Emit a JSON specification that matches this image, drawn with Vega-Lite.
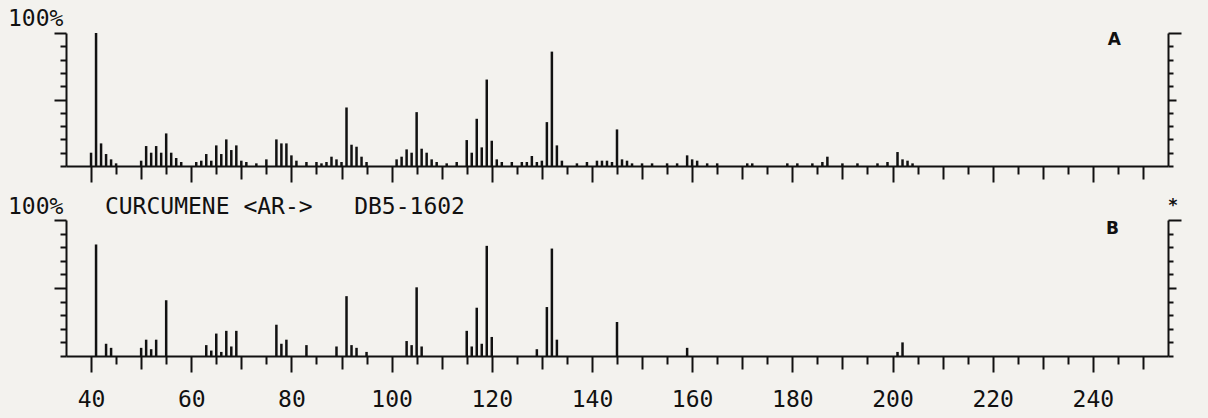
{
  "$schema": "https://vega.github.io/schema/vega-lite/v6.json",
  "background": "#f3f2ee",
  "padding": {"left": 8, "top": 8, "right": 26, "bottom": 8},
  "spacing": 54,
  "bounds": "flush",
  "config": {
    "view": {"stroke": null},
    "font": "DejaVu Sans Mono",
    "axis": {
      "grid": false,
      "title": null,
      "labelFont": "DejaVu Sans Mono",
      "labelFontSize": 23,
      "labelColor": "#111111",
      "domainColor": "#111111",
      "domainWidth": 2,
      "tickColor": "#111111",
      "tickWidth": 2
    },
    "title": {"font": "DejaVu Sans Mono", "fontSize": 23, "fontWeight": "normal", "color": "#111111", "anchor": "start", "frame": "group"}
  },
  "datasets": {
    "specA": [
      {"mz": 40, "intensity": 10}, {"mz": 41, "intensity": 100}, {"mz": 42, "intensity": 17}, {"mz": 43, "intensity": 9},
      {"mz": 44, "intensity": 5}, {"mz": 45, "intensity": 2}, {"mz": 50, "intensity": 4}, {"mz": 51, "intensity": 15},
      {"mz": 52, "intensity": 10}, {"mz": 53, "intensity": 15}, {"mz": 54, "intensity": 10}, {"mz": 55, "intensity": 24.5},
      {"mz": 56, "intensity": 10}, {"mz": 57, "intensity": 6}, {"mz": 58, "intensity": 3}, {"mz": 61, "intensity": 3},
      {"mz": 62, "intensity": 4}, {"mz": 63, "intensity": 9}, {"mz": 64, "intensity": 4}, {"mz": 65, "intensity": 15.5},
      {"mz": 66, "intensity": 9}, {"mz": 67, "intensity": 20}, {"mz": 68, "intensity": 12}, {"mz": 69, "intensity": 15.5},
      {"mz": 70, "intensity": 4}, {"mz": 71, "intensity": 3}, {"mz": 73, "intensity": 2}, {"mz": 75, "intensity": 5},
      {"mz": 77, "intensity": 20}, {"mz": 78, "intensity": 17}, {"mz": 79, "intensity": 17}, {"mz": 80, "intensity": 8},
      {"mz": 81, "intensity": 4}, {"mz": 83, "intensity": 3}, {"mz": 85, "intensity": 3}, {"mz": 86, "intensity": 2},
      {"mz": 87, "intensity": 3}, {"mz": 88, "intensity": 7}, {"mz": 89, "intensity": 5}, {"mz": 90, "intensity": 3},
      {"mz": 91, "intensity": 44}, {"mz": 92, "intensity": 16}, {"mz": 93, "intensity": 14.5}, {"mz": 94, "intensity": 7},
      {"mz": 95, "intensity": 3}, {"mz": 101, "intensity": 5}, {"mz": 102, "intensity": 7}, {"mz": 103, "intensity": 12.5},
      {"mz": 104, "intensity": 10}, {"mz": 105, "intensity": 40.5}, {"mz": 106, "intensity": 13}, {"mz": 107, "intensity": 10},
      {"mz": 108, "intensity": 5}, {"mz": 109, "intensity": 3}, {"mz": 111, "intensity": 2}, {"mz": 113, "intensity": 3},
      {"mz": 115, "intensity": 19.5}, {"mz": 116, "intensity": 10}, {"mz": 117, "intensity": 35.5}, {"mz": 118, "intensity": 14},
      {"mz": 119, "intensity": 65}, {"mz": 120, "intensity": 19}, {"mz": 121, "intensity": 5}, {"mz": 122, "intensity": 3},
      {"mz": 124, "intensity": 3}, {"mz": 126, "intensity": 3}, {"mz": 127, "intensity": 3}, {"mz": 128, "intensity": 7.5},
      {"mz": 129, "intensity": 3}, {"mz": 130, "intensity": 4}, {"mz": 131, "intensity": 33}, {"mz": 132, "intensity": 86},
      {"mz": 133, "intensity": 15.5}, {"mz": 134, "intensity": 4}, {"mz": 137, "intensity": 2}, {"mz": 139, "intensity": 3},
      {"mz": 141, "intensity": 4}, {"mz": 142, "intensity": 4}, {"mz": 143, "intensity": 4}, {"mz": 144, "intensity": 3},
      {"mz": 145, "intensity": 27.5}, {"mz": 146, "intensity": 5}, {"mz": 147, "intensity": 4}, {"mz": 148, "intensity": 2},
      {"mz": 150, "intensity": 2}, {"mz": 152, "intensity": 2}, {"mz": 155, "intensity": 2}, {"mz": 157, "intensity": 2},
      {"mz": 159, "intensity": 8}, {"mz": 160, "intensity": 5}, {"mz": 161, "intensity": 4}, {"mz": 163, "intensity": 2},
      {"mz": 165, "intensity": 2}, {"mz": 171, "intensity": 2}, {"mz": 172, "intensity": 2}, {"mz": 179, "intensity": 2},
      {"mz": 181, "intensity": 2}, {"mz": 184, "intensity": 2}, {"mz": 186, "intensity": 3}, {"mz": 187, "intensity": 7},
      {"mz": 190, "intensity": 2}, {"mz": 193, "intensity": 2}, {"mz": 197, "intensity": 2}, {"mz": 199, "intensity": 3},
      {"mz": 201, "intensity": 10.5}, {"mz": 202, "intensity": 5}, {"mz": 203, "intensity": 4}, {"mz": 204, "intensity": 2}
    ],
    "specB": [
      {"mz": 41, "intensity": 82}, {"mz": 43, "intensity": 9}, {"mz": 44, "intensity": 6}, {"mz": 50, "intensity": 6},
      {"mz": 51, "intensity": 12}, {"mz": 52, "intensity": 5}, {"mz": 53, "intensity": 12}, {"mz": 55, "intensity": 41},
      {"mz": 63, "intensity": 8}, {"mz": 64, "intensity": 4}, {"mz": 65, "intensity": 16.5}, {"mz": 66, "intensity": 3},
      {"mz": 67, "intensity": 18.5}, {"mz": 68, "intensity": 7}, {"mz": 69, "intensity": 18.5}, {"mz": 77, "intensity": 23},
      {"mz": 78, "intensity": 9}, {"mz": 79, "intensity": 12}, {"mz": 83, "intensity": 8}, {"mz": 89, "intensity": 7},
      {"mz": 91, "intensity": 44}, {"mz": 92, "intensity": 8}, {"mz": 93, "intensity": 6}, {"mz": 95, "intensity": 3},
      {"mz": 103, "intensity": 11}, {"mz": 104, "intensity": 8}, {"mz": 105, "intensity": 50.5}, {"mz": 106, "intensity": 7},
      {"mz": 115, "intensity": 18.5}, {"mz": 116, "intensity": 7}, {"mz": 117, "intensity": 35.5}, {"mz": 118, "intensity": 9},
      {"mz": 119, "intensity": 81}, {"mz": 120, "intensity": 14}, {"mz": 129, "intensity": 5}, {"mz": 131, "intensity": 36},
      {"mz": 132, "intensity": 79}, {"mz": 133, "intensity": 12}, {"mz": 145, "intensity": 25}, {"mz": 159, "intensity": 6},
      {"mz": 201, "intensity": 3}, {"mz": 202, "intensity": 10}
    ],
    "labelA": [{"mz": 244.3, "intensity": 94.5, "text": "A"}],
    "labelB": [{"mz": 243.9, "intensity": 93.5, "text": "B"}, {"mz": 256, "intensity": 110, "text": "*"}]
  },
  "vconcat": [
    {
      "width": 1102,
      "height": 133,
      "title": {"text": "100%", "dx": -58, "offset": 0},
      "resolve": {"axis": {"x": "independent", "y": "independent"}},
      "layer": [
        {
          "data": {"name": "specA"},
          "mark": {"type": "rule", "color": "#111111", "strokeWidth": 2.5},
          "encoding": {
            "x": {"field": "mz", "type": "quantitative", "scale": {"domain": [35, 255], "nice": false, "zero": false},
              "axis": {"orient": "bottom", "labels": false, "tickSize": 16, "values": [40,60,80,100,120,140,160,180,200,220,240]}},
            "y": {"field": "intensity", "type": "quantitative", "scale": {"domain": [0, 100], "nice": false},
              "axis": {"orient": "left", "labels": false, "tickSize": 12, "values": [50,100]}},
            "y2": {"datum": 0}
          }
        },
        {
          "data": {"name": "labelA"},
          "mark": {"type": "text", "font": "DejaVu Sans", "fontWeight": "bold", "fontSize": 17, "color": "#111111", "baseline": "middle", "align": "center"},
          "encoding": {
            "x": {"field": "mz", "type": "quantitative",
              "axis": {"orient": "bottom", "labels": false, "domain": false, "tickSize": 13, "values": [50,70,90,110,130,150,170,190,210,230,250]}},
            "y": {"field": "intensity", "type": "quantitative",
              "axis": {"orient": "right", "labels": false, "tickSize": 5, "values": [0,10,20,30,40,60,70,80,90]}},
            "text": {"field": "text"}
          }
        },
        {
          "data": {"name": "labelA"},
          "mark": {"type": "text", "opacity": 0},
          "encoding": {
            "x": {"field": "mz", "type": "quantitative",
              "axis": {"orient": "bottom", "labels": false, "domain": false, "tickSize": 8, "values": [45,55,65,75,85,95,105,115,125,135,145,155,165,175,185,195,205,215,225,235,245]}},
            "y": {"field": "intensity", "type": "quantitative",
              "axis": {"orient": "left", "labels": false, "domain": false, "tickSize": 6, "values": [0,10,20,30,40,60,70,80,90]}},
            "text": {"field": "text"}
          }
        },
        {
          "data": {"name": "labelA"},
          "mark": {"type": "text", "opacity": 0},
          "encoding": {
            "y": {"field": "intensity", "type": "quantitative",
              "axis": {"orient": "right", "labels": false, "domain": false, "tickSize": 8, "values": [50]}},
            "text": {"field": "text"}
          }
        },
        {
          "data": {"name": "labelA"},
          "mark": {"type": "text", "opacity": 0},
          "encoding": {
            "y": {"field": "intensity", "type": "quantitative",
              "axis": {"orient": "right", "labels": false, "domain": false, "tickSize": 13, "values": [100]}},
            "text": {"field": "text"}
          }
        }
      ]
    },
    {
      "width": 1102,
      "height": 136,
      "title": {"text": "100%\u00a0\u00a0\u00a0CURCUMENE\u00a0<AR->\u00a0\u00a0\u00a0DB5-1602", "dx": -58, "offset": 0, "dy": 22},
      "resolve": {"axis": {"x": "independent", "y": "independent"}},
      "layer": [
        {
          "data": {"name": "specB"},
          "mark": {"type": "rule", "color": "#111111", "strokeWidth": 2.5},
          "encoding": {
            "x": {"field": "mz", "type": "quantitative", "scale": {"domain": [35, 255], "nice": false, "zero": false},
              "axis": {"orient": "bottom", "tickSize": 16, "labelPadding": 16, "values": [40,60,80,100,120,140,160,180,200,220,240]}},
            "y": {"field": "intensity", "type": "quantitative", "scale": {"domain": [0, 100], "nice": false},
              "axis": {"orient": "left", "labels": false, "tickSize": 12, "values": [50,100]}},
            "y2": {"datum": 0}
          }
        },
        {
          "data": {"name": "labelB"},
          "mark": {"type": "text", "font": "DejaVu Sans", "fontWeight": "bold", "fontSize": 17, "color": "#111111", "baseline": "middle", "align": "center"},
          "encoding": {
            "x": {"field": "mz", "type": "quantitative",
              "axis": {"orient": "bottom", "labels": false, "domain": false, "tickSize": 13, "values": [50,70,90,110,130,150,170,190,210,230,250]}},
            "y": {"field": "intensity", "type": "quantitative",
              "axis": {"orient": "right", "labels": false, "tickSize": 5, "values": [0,10,20,30,40,60,70,80,90]}},
            "text": {"field": "text"}
          }
        },
        {
          "data": {"name": "labelB"},
          "mark": {"type": "text", "opacity": 0},
          "encoding": {
            "x": {"field": "mz", "type": "quantitative",
              "axis": {"orient": "bottom", "labels": false, "domain": false, "tickSize": 8, "values": [45,55,65,75,85,95,105,115,125,135,145,155,165,175,185,195,205,215,225,235,245]}},
            "y": {"field": "intensity", "type": "quantitative",
              "axis": {"orient": "left", "labels": false, "domain": false, "tickSize": 6, "values": [0,10,20,30,40,60,70,80,90]}},
            "text": {"field": "text"}
          }
        },
        {
          "data": {"name": "labelB"},
          "mark": {"type": "text", "opacity": 0},
          "encoding": {
            "y": {"field": "intensity", "type": "quantitative",
              "axis": {"orient": "right", "labels": false, "domain": false, "tickSize": 8, "values": [50]}},
            "text": {"field": "text"}
          }
        },
        {
          "data": {"name": "labelB"},
          "mark": {"type": "text", "opacity": 0},
          "encoding": {
            "y": {"field": "intensity", "type": "quantitative",
              "axis": {"orient": "right", "labels": false, "domain": false, "tickSize": 13, "values": [100]}},
            "text": {"field": "text"}
          }
        }
      ]
    }
  ]
}
